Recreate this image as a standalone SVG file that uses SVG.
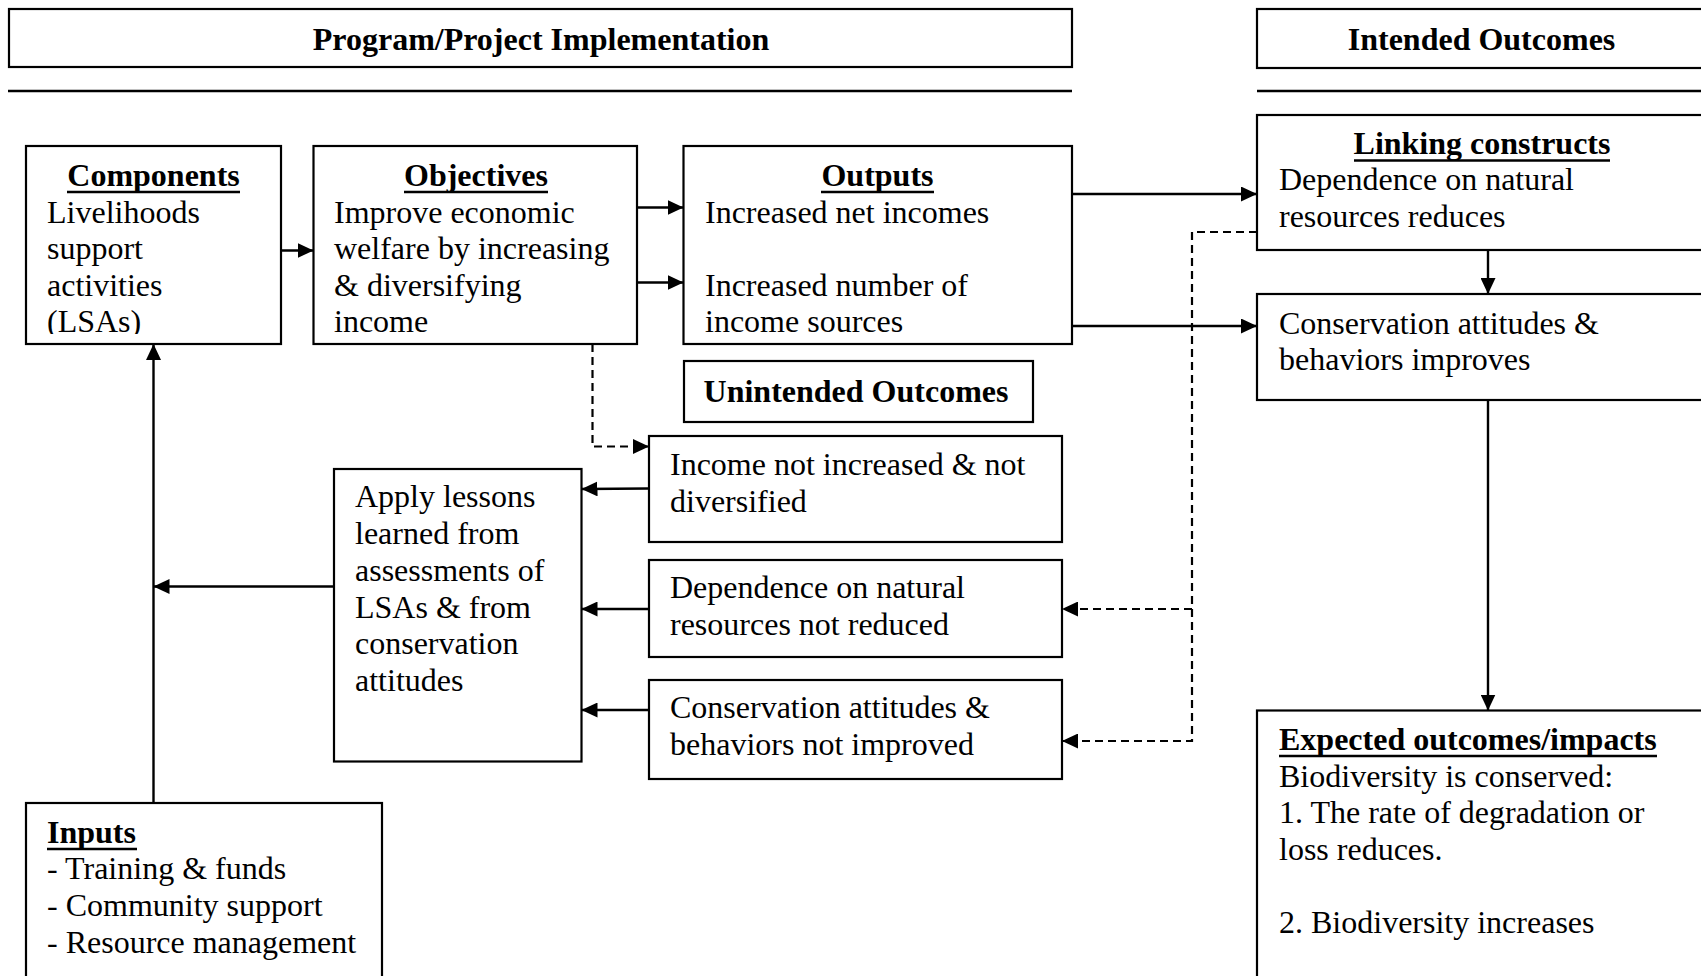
<svg xmlns="http://www.w3.org/2000/svg" width="1701" height="976" viewBox="0 0 1701 976">
<style>
.box{fill:#fff;stroke:#000;stroke-width:2.2}
.t{font-family:"Liberation Serif","Times New Roman",serif;font-size:32px;fill:#000}
.b{font-weight:bold}
.c{text-anchor:middle}
.ul{stroke:#000;stroke-width:2.5}
.ln{stroke:#000;stroke-width:2.4;fill:none}
.dash{stroke:#000;stroke-width:2.2;fill:none;stroke-dasharray:8 5}
</style>
<defs>
<marker id="ah" markerUnits="userSpaceOnUse" markerWidth="16" markerHeight="15" refX="16" refY="7.5" orient="auto">
<path d="M0,0 L16,7.5 L0,15 z" fill="#000"/>
</marker>
<clipPath id="clipComp"><rect x="26" y="146" width="256" height="188"/></clipPath>
</defs>
<rect width="1701" height="976" fill="#fff"/>

<g id="header-implementation">
<rect class="box" x="9" y="9" width="1063" height="58"/>
<text class="t b c" x="541" y="50">Program/Project Implementation</text>
<line class="ln" x1="8" y1="91" x2="1072" y2="91"/>
</g>

<g id="header-intended">
<rect class="box" x="1257" y="9" width="470" height="59"/>
<text class="t b c" x="1481.5" y="50">Intended Outcomes</text>
<line class="ln" x1="1257" y1="91" x2="1701" y2="91"/>
</g>

<g id="components">
<rect class="box" x="26" y="146" width="255" height="198"/>
<text class="t b c" x="153.5" y="186">Components</text>
<line class="ul" x1="67" y1="192" x2="240" y2="192"/>
<g clip-path="url(#clipComp)">
<text class="t" x="47" y="222.5">Livelihoods</text>
<text class="t" x="47" y="259">support</text>
<text class="t" x="47" y="295.5">activities</text>
<text class="t" x="47" y="332">(LSAs)</text>
</g>
</g>

<g id="objectives">
<rect class="box" x="313.5" y="146" width="323.5" height="198"/>
<text class="t b c" x="476" y="186">Objectives</text>
<line class="ul" x1="404" y1="192" x2="548" y2="192"/>
<text class="t" x="334" y="222.5">Improve economic</text>
<text class="t" x="334" y="259">welfare by increasing</text>
<text class="t" x="334" y="295.5">&amp; diversifying</text>
<text class="t" x="334" y="332">income</text>
</g>

<g id="outputs">
<rect class="box" x="683.5" y="146" width="388.5" height="198"/>
<text class="t b c" x="877.5" y="186">Outputs</text>
<line class="ul" x1="821" y1="192" x2="934" y2="192"/>
<text class="t" x="705" y="222.5">Increased net incomes</text>
<text class="t" x="705" y="295.5">Increased number of</text>
<text class="t" x="705" y="332">income sources</text>
</g>

<g id="linking">
<rect class="box" x="1257" y="115" width="470" height="135"/>
<text class="t b c" x="1482" y="153.5">Linking constructs</text>
<line class="ul" x1="1354" y1="160.5" x2="1610" y2="160.5"/>
<text class="t" x="1279" y="190">Dependence on natural</text>
<text class="t" x="1279" y="227">resources reduces</text>
</g>

<g id="conservation-improves">
<rect class="box" x="1257" y="294" width="470" height="106"/>
<text class="t" x="1279" y="333.5">Conservation attitudes &amp;</text>
<text class="t" x="1279" y="370">behaviors improves</text>
</g>

<g id="expected">
<rect class="box" x="1257" y="710.5" width="470" height="290"/>
<text class="t b" x="1279" y="750">Expected outcomes/impacts</text>
<line class="ul" x1="1279" y1="756" x2="1657" y2="756"/>
<text class="t" x="1279" y="786.5">Biodiversity is conserved:</text>
<text class="t" x="1279" y="823">1. The rate of degradation or</text>
<text class="t" x="1279" y="859.5">loss reduces.</text>
<text class="t" x="1279" y="932.5">2. Biodiversity increases</text>
</g>

<g id="unintended-header">
<rect class="box" x="684" y="361" width="349" height="61"/>
<text class="t b c" x="856" y="402">Unintended Outcomes</text>
</g>

<g id="income-not-increased">
<rect class="box" x="649" y="436" width="413" height="106"/>
<text class="t" x="670" y="475">Income not increased &amp; not</text>
<text class="t" x="670" y="512">diversified</text>
</g>

<g id="dependence-not-reduced">
<rect class="box" x="649" y="560" width="413" height="97"/>
<text class="t" x="670" y="598">Dependence on natural</text>
<text class="t" x="670" y="635">resources not reduced</text>
</g>

<g id="conservation-not-improved">
<rect class="box" x="649" y="680" width="413" height="99"/>
<text class="t" x="670" y="718">Conservation attitudes &amp;</text>
<text class="t" x="670" y="755">behaviors not improved</text>
</g>

<g id="apply-lessons">
<rect class="box" x="334" y="469" width="247.5" height="292.5"/>
<text class="t" x="355" y="507">Apply lessons</text>
<text class="t" x="355" y="544">learned from</text>
<text class="t" x="355" y="581">assessments of</text>
<text class="t" x="355" y="617.5">LSAs &amp; from</text>
<text class="t" x="355" y="654">conservation</text>
<text class="t" x="355" y="691">attitudes</text>
</g>

<g id="inputs">
<rect class="box" x="26" y="803" width="356" height="200"/>
<text class="t b" x="47" y="842.5">Inputs</text>
<line class="ul" x1="47" y1="849" x2="137" y2="849"/>
<text class="t" x="47" y="879">- Training &amp; funds</text>
<text class="t" x="47" y="916">- Community support</text>
<text class="t" x="47" y="952.5">- Resource management</text>
</g>

<g id="connectors">
<line class="ln" x1="281" y1="250.5" x2="313.5" y2="250.5" marker-end="url(#ah)"/>
<line class="ln" x1="637" y1="207.5" x2="683.5" y2="207.5" marker-end="url(#ah)"/>
<line class="ln" x1="637" y1="282.5" x2="683.5" y2="282.5" marker-end="url(#ah)"/>
<line class="ln" x1="1072" y1="194" x2="1257" y2="194" marker-end="url(#ah)"/>
<line class="ln" x1="1072" y1="326" x2="1257" y2="326" marker-end="url(#ah)"/>
<line class="ln" x1="1488" y1="250" x2="1488" y2="294" marker-end="url(#ah)"/>
<line class="ln" x1="1488" y1="400" x2="1488" y2="710.5" marker-end="url(#ah)"/>
<line class="ln" x1="649" y1="488.5" x2="581.5" y2="489" marker-end="url(#ah)"/>
<line class="ln" x1="649" y1="609" x2="581.5" y2="609" marker-end="url(#ah)"/>
<line class="ln" x1="649" y1="710" x2="581.5" y2="710" marker-end="url(#ah)"/>
<line class="ln" x1="334" y1="586.5" x2="153.5" y2="586.5" marker-end="url(#ah)"/>
<line class="ln" x1="153.5" y1="803" x2="153.5" y2="344" marker-end="url(#ah)"/>
<polyline class="dash" points="592.5,344 592.5,446.5 649,446.5" marker-end="url(#ah)"/>
<polyline class="dash" points="1257,232 1192,232 1192,741 1062,741" marker-end="url(#ah)"/>
<line class="dash" x1="1192" y1="609" x2="1062" y2="609" marker-end="url(#ah)"/>
</g>
</svg>
